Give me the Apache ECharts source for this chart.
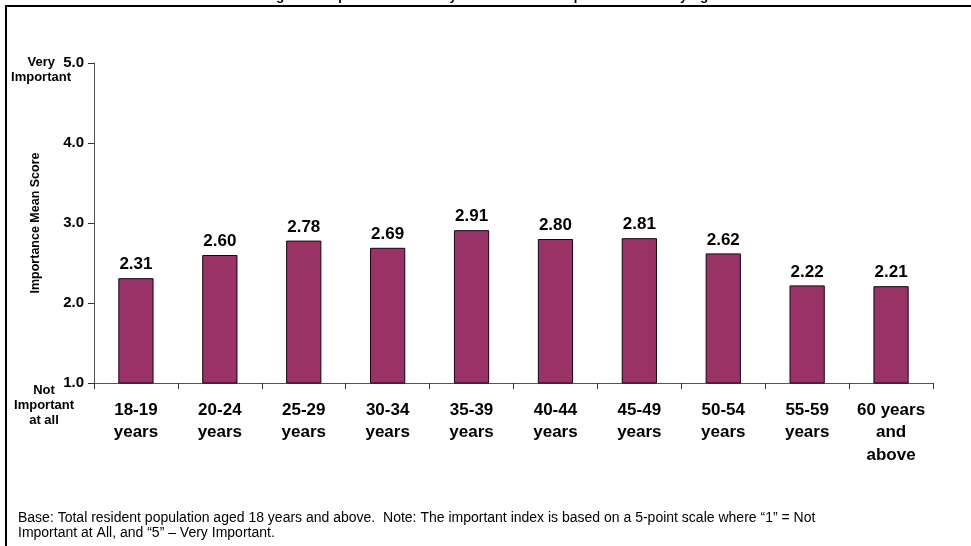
<!DOCTYPE html>
<html>
<head>
<meta charset="utf-8">
<script src="https://cdn.jsdelivr.net/npm/echarts@6/dist/echarts.min.js"></script>
<style>
  html, body { margin: 0; padding: 0; background: #ffffff; }
  #chart { width: 971px; height: 546px; }
</style>
</head>
<body>
<div id="chart"></div>
<script>
// Age groups along the category axis
const ageGroups = ['18-19\nyears', '20-24\nyears', '25-29\nyears', '30-34\nyears', '35-39\nyears',
                   '40-44\nyears', '45-49\nyears', '50-54\nyears', '55-59\nyears', '60 years\nand\nabove'];
// Mean importance score for each age group (1 = not important, 5 = very important)
const meanScores = [2.31, 2.60, 2.78, 2.69, 2.91, 2.80, 2.81, 2.62, 2.22, 2.21];
// Value axis range
const scoreMin = 1;
const scoreMax = 5;
const scoreStep = 1;

const titleText = 'Figure 6: Importance of Library Services: Mean Importance Score by Age';
const noteText = 'Base: Total resident population aged 18 years and above.  Note: The important index is based on a 5-point scale where \u201c1\u201d = Not\nImportant at All, and \u201c5\u201d \u2013 Very Important.';

const chart = echarts.init(document.getElementById('chart'), null, { renderer: 'canvas' });
const font = 'Arial, "Liberation Sans", Helvetica, sans-serif';

chart.setOption({
  animation: false,
  backgroundColor: '#ffffff',
  grid: { left: 94, right: 38, top: 63, bottom: 163, containLabel: false },
  xAxis: {
    type: 'category',
    data: ageGroups,
    axisLine: { lineStyle: { color: '#555555', width: 1 } },
    axisTick: { show: true, alignWithLabel: false, length: 6, lineStyle: { color: '#333333' } },
    axisLabel: {
      color: '#000000', fontFamily: font, fontWeight: 'bold', fontSize: 17,
      lineHeight: 22.5, margin: 16, interval: 0
    }
  },
  yAxis: {
    type: 'value',
    min: scoreMin, max: scoreMax, interval: scoreStep,
    name: 'Importance Mean Score',
    nameLocation: 'middle',
    nameRotate: 90,
    nameGap: 52,
    nameTextStyle: { color: '#000000', fontFamily: font, fontWeight: 'bold', fontSize: 12.5 },
    splitLine: { show: false },
    axisLine: { show: true, lineStyle: { color: '#555555', width: 1 } },
    axisTick: { show: true, length: 6, lineStyle: { color: '#333333' } },
    axisLabel: {
      color: '#000000', fontFamily: font, fontWeight: 'bold', fontSize: 15, margin: 10,
      formatter: v => v.toFixed(1)
    }
  },
  series: [{
    type: 'bar',
    data: meanScores,
    barWidth: '42%',
    itemStyle: { color: '#993366', borderColor: '#1a0010', borderWidth: 1 },
    label: {
      show: true, position: 'top', distance: 5,
      color: '#000000', fontFamily: font, fontWeight: 'bold', fontSize: 17,
      formatter: p => p.value.toFixed(2)
    }
  }],
  graphic: [
    // frame around the figure
    { type: 'polyline', silent: true,
      shape: { points: [[6, 560], [6, 6], [975, 6]] },
      style: { stroke: '#000000', lineWidth: 2, fill: null } },
    // figure title (sits at the very top edge)
    { type: 'text', silent: true, x: 490, y: 3,
      style: { text: titleText, fill: '#000000', font: 'bold 13px ' + font,
               textAlign: 'center', textVerticalAlign: 'bottom' } },
    // scale anchors next to the value axis
    { type: 'text', silent: true, x: 55, y: 62,
      style: { text: 'Very', fill: '#000000', font: 'bold 13px ' + font,
               textAlign: 'right', textVerticalAlign: 'middle' } },
    { type: 'text', silent: true, x: 41, y: 77,
      style: { text: 'Important', fill: '#000000', font: 'bold 13px ' + font,
               textAlign: 'center', textVerticalAlign: 'middle' } },
    { type: 'text', silent: true, x: 44, y: 390,
      style: { text: 'Not', fill: '#000000', font: 'bold 13px ' + font,
               textAlign: 'center', textVerticalAlign: 'middle' } },
    { type: 'text', silent: true, x: 44, y: 405,
      style: { text: 'Important', fill: '#000000', font: 'bold 13px ' + font,
               textAlign: 'center', textVerticalAlign: 'middle' } },
    { type: 'text', silent: true, x: 44, y: 420,
      style: { text: 'at all', fill: '#000000', font: 'bold 13px ' + font,
               textAlign: 'center', textVerticalAlign: 'middle' } },
    // footnote
    { type: 'text', silent: true, x: 18, y: 511,
      style: { text: noteText, fill: '#000000', font: '14px ' + font,
               lineHeight: 14.5, textAlign: 'left', textVerticalAlign: 'top' } }
  ]
});
</script>
</body>
</html>
